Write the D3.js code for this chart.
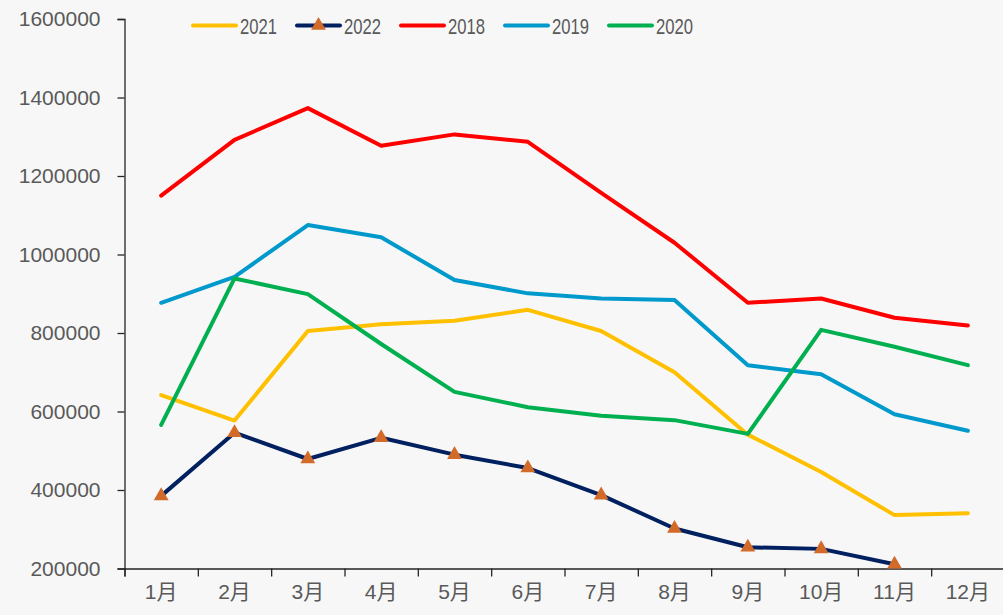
<!DOCTYPE html>
<html>
<head>
<meta charset="utf-8">
<script src="https://cdn.jsdelivr.net/npm/d3@7/dist/d3.min.js"></script>
<style>
  html, body { margin: 0; padding: 0; background: #f7f7f7; }
  svg { display: block; }
</style>
</head>
<body>
<script>
// 月度数据折线图
let months = ['1月', '2月', '3月', '4月', '5月', '6月', '7月', '8月', '9月', '10月', '11月', '12月']
let yTicks = [200000, 400000, 600000, 800000, 1000000, 1200000, 1400000, 1600000]

let v2021 = [642000, 577000, 805000, 822000, 831000, 859000, 805000, 700000, 541000, 446000, 336000, 341000]
let v2022 = [385000, 546000, 479000, 533000, 490000, 456000, 387000, 302000, 254000, 250000, 211000]
let v2018 = [1150000, 1292000, 1373000, 1277000, 1306000, 1287000, 1157000, 1030000, 877000, 888000, 839000, 819000]
let v2019 = [877000, 943000, 1075000, 1044000, 935000, 901000, 888000, 884000, 718000, 695000, 593000, 551000]
let v2020 = [566000, 939000, 899000, 772000, 650000, 611000, 589000, 578000, 543000, 808000, 765000, 718000]

let seriesNames = ['2021', '2022', '2018', '2019', '2020']
let seriesValues = [v2021, v2022, v2018, v2019, v2020]
let seriesColors = ['#ffc000', '#002060', '#ff0000', '#0099cc', '#00b050']

let chartWidth = 1003
let chartHeight = 615
let plotLeft = 124.5, plotRight = 1004.5, plotTop = 19, plotBottom = 568.5

let svg = d3.select('body').append('svg')
  .attr('width', chartWidth)
  .attr('height', chartHeight)

svg.append('rect').attr('width', chartWidth).attr('height', chartHeight).attr('fill', '#f7f7f7')

let xScale = d3.scaleBand().domain(months).range([plotLeft, plotRight])
let yScale = d3.scaleLinear().domain([200000, 1600000]).range([plotBottom, plotTop])

let fontFamily = '"Liberation Sans", "Noto Sans CJK SC", sans-serif'

// y轴
let yAxis = svg.append('g')
  .attr('transform', 'translate(' + plotLeft + ',0)')
  .call(d3.axisLeft(yScale).tickValues(yTicks).tickSize(7).tickPadding(17).tickFormat(d3.format('d')))
yAxis.select('.domain').attr('stroke', '#262626').attr('stroke-width', 1.3)
yAxis.selectAll('.tick line').attr('stroke', '#262626').attr('stroke-width', 1.3)
yAxis.selectAll('text').attr('font-size', '21px').attr('font-family', fontFamily).attr('fill', '#595959')

// x轴 标签在类别中间
let xAxis = svg.append('g')
  .attr('transform', 'translate(0,' + plotBottom + ')')
  .call(d3.axisBottom(xScale).tickSize(0).tickPadding(16))
xAxis.select('.domain').remove()
xAxis.selectAll('text').attr('font-size', '21px').attr('font-family', fontFamily).attr('fill', '#595959')

// x轴 刻度在类别边界
let edgeScale = d3.scaleLinear().domain([0, months.length]).range([plotLeft, plotRight])
let xEdge = svg.append('g')
  .attr('transform', 'translate(0,' + plotBottom + ')')
  .call(d3.axisBottom(edgeScale).ticks(months.length).tickSize(8).tickFormat(''))
xEdge.select('.domain').attr('stroke', '#262626').attr('stroke-width', 1.3)
xEdge.selectAll('.tick line').attr('stroke', '#262626').attr('stroke-width', 1.3)

let line = d3.line()
  .x(function (d, i) { return xScale(months[i]) + xScale.bandwidth() / 2 })
  .y(function (d) { return yScale(d) })

let triangle = d3.symbol().type(d3.symbolTriangle).size(95)

seriesValues.forEach(function (vals, k) {
  svg.append('path')
    .datum(vals)
    .attr('d', line)
    .attr('fill', 'none')
    .attr('stroke', seriesColors[k])
    .attr('stroke-width', 4)
    .attr('stroke-linejoin', 'round')
    .attr('stroke-linecap', 'round')
  if (seriesNames[k] === '2022') {
    svg.selectAll('.tri')
      .data(vals)
      .enter().append('path')
      .attr('class', 'tri')
      .attr('d', triangle)
      .attr('fill', '#d26b29')
      .attr('transform', function (d, i) {
        return 'translate(' + (xScale(months[i]) + xScale.bandwidth() / 2) + ',' + yScale(d) + ')'
      })
  }
})

// 图例
let legendX = [193, 297, 401, 505, 609]
let legendY = 25.5
seriesNames.forEach(function (name, k) {
  let g = svg.append('g').attr('transform', 'translate(' + legendX[k] + ',' + legendY + ')')
  g.append('line')
    .attr('x1', 0).attr('x2', 43)
    .attr('stroke', seriesColors[k])
    .attr('stroke-width', 4)
    .attr('stroke-linecap', 'round')
  if (name === '2022') {
    g.append('path').attr('d', triangle).attr('fill', '#d26b29').attr('transform', 'translate(21.5,0)')
  }
  g.append('text')
    .attr('x', 47)
    .attr('y', 8)
    .attr('font-size', '22px')
    .attr('font-family', fontFamily)
    .attr('fill', '#595959')
    .attr('textLength', 37)
    .attr('lengthAdjust', 'spacingAndGlyphs')
    .text(name)
})
</script>
</body>
</html>
